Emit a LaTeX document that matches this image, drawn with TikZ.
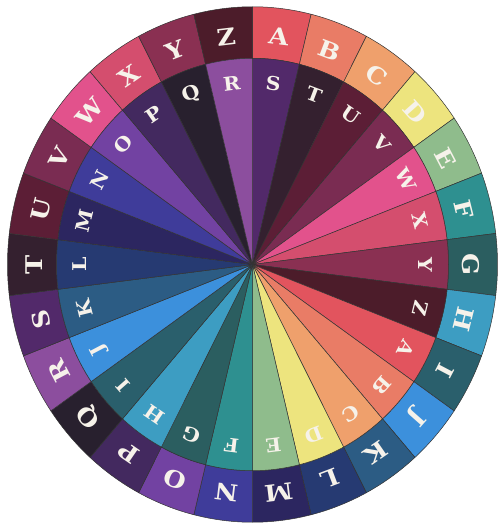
\documentclass[tikz,border=0pt]{standalone}
\usepackage{fontspec}
\setmainfont{DejaVu Serif}
\usepackage{tikz}

\definecolor{cA}{HTML}{E2545E}
\definecolor{cB}{HTML}{E97C66}
\definecolor{cC}{HTML}{EFA06C}
\definecolor{cD}{HTML}{EDE47E}
\definecolor{cE}{HTML}{8FBC8C}
\definecolor{cF}{HTML}{2E9090}
\definecolor{cG}{HTML}{2B5E60}
\definecolor{cH}{HTML}{3D9DC2}
\definecolor{cI}{HTML}{2A5F6C}
\definecolor{cJ}{HTML}{3C90DC}
\definecolor{cK}{HTML}{2C5C84}
\definecolor{cL}{HTML}{263A72}
\definecolor{cM}{HTML}{2C2660}
\definecolor{cN}{HTML}{3F3C9A}
\definecolor{cO}{HTML}{7242A2}
\definecolor{cP}{HTML}{43295F}
\definecolor{cQ}{HTML}{28202E}
\definecolor{cR}{HTML}{8C4E9E}
\definecolor{cS}{HTML}{52296A}
\definecolor{cT}{HTML}{34202F}
\definecolor{cU}{HTML}{5C1E36}
\definecolor{cV}{HTML}{7A2C52}
\definecolor{cW}{HTML}{E2528C}
\definecolor{cX}{HTML}{D44E6E}
\definecolor{cY}{HTML}{8A3052}
\definecolor{cZ}{HTML}{4C1C2A}
\definecolor{paper}{HTML}{F6F2EA}

\begin{document}
\begin{tikzpicture}[
    x=1pt, y=1.052pt,
    sector/.style={draw=black!80, line width=0.5pt},
    outerletter/.style={text=paper, font=\fontsize{23}{23}\selectfont\bfseries, inner sep=0pt},
    innerletter/.style={text=paper, font=\fontsize{19}{19}\selectfont\bfseries, inner sep=0pt},
]
    \useasboundingbox (-252.5pt,-264.5pt) rectangle (245.5pt,264.5pt);

    \foreach \L/\I [count=\k from 0] in {A/S,B/T,C/U,D/V,E/W,F/X,G/Y,H/Z,I/A,J/B,K/C,L/D,M/E,N/F,O/G,P/H,Q/I,R/J,S/K,T/L,U/M,V/N,W/O,X/P,Y/Q,Z/R} {
        \pgfmathsetmacro{\angA}{90-\k*360/26}
        \pgfmathsetmacro{\angB}{90-(\k+1)*360/26}
        \pgfmathsetmacro{\angM}{90-(\k+0.5)*360/26}
        \filldraw[sector, fill=c\L] (\angA:196) -- (\angA:245) arc[start angle=\angA, end angle=\angB, radius=245]
            -- (\angB:196) arc[start angle=\angB, end angle=\angA, radius=196] -- cycle;
        \filldraw[sector, fill=c\I] (0,0) -- (\angA:196) arc[start angle=\angA, end angle=\angB, radius=196] -- cycle;
        \node[outerletter, rotate=\angM-90] (outer\L) at (\angM:218) {\scalebox{1.12}[1]{\L}};
        \node[innerletter, rotate=\angM-90] (inner\I) at (\angM:173) {\scalebox{1.08}[1]{\I}};
    }
\end{tikzpicture}
\end{document}
